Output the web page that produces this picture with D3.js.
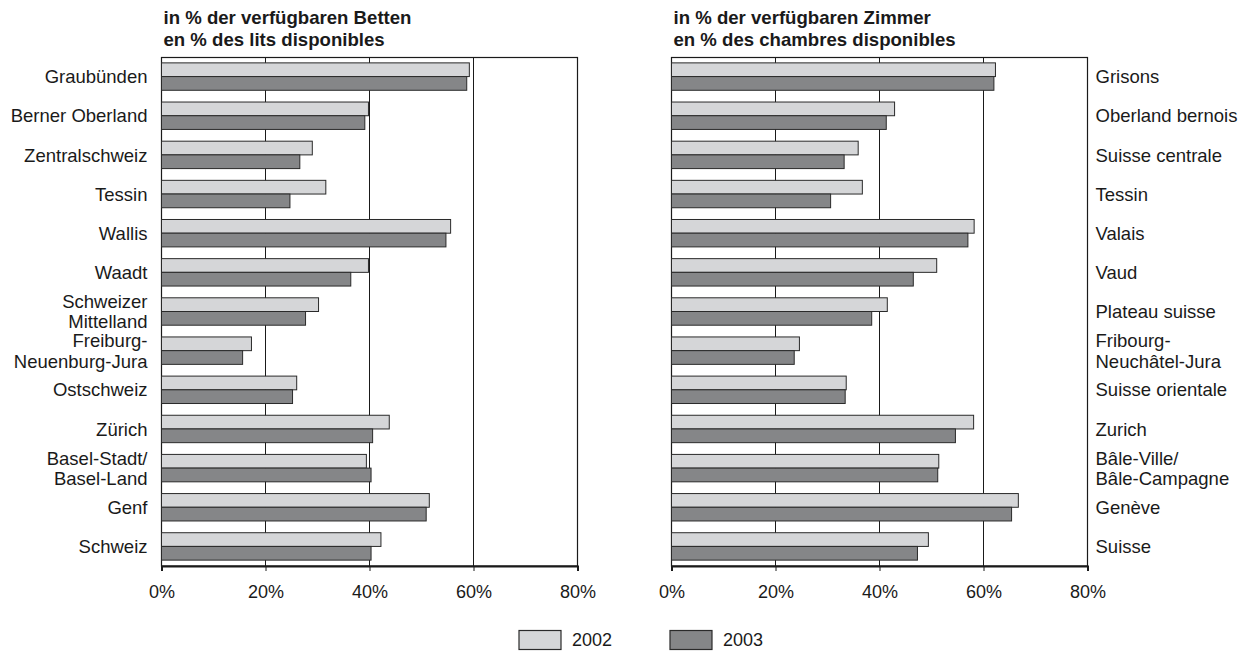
<!DOCTYPE html>
<html>
<head>
<meta charset="utf-8">
<script src="https://cdn.jsdelivr.net/npm/d3@7"></script>
<style>
  html, body { margin: 0; padding: 0; background: #fff; }
  svg { display: block; font-family: "Liberation Sans", Arial, Helvetica, sans-serif; }
</style>
</head>
<body>
<svg id="chart" width="1258" height="655"></svg>
<script>
// ---- data ----
const categoriesDE = [
  ["Graubünden"], ["Berner Oberland"], ["Zentralschweiz"], ["Tessin"], ["Wallis"], ["Waadt"],
  ["Schweizer", "Mittelland"], ["Freiburg-", "Neuenburg-Jura"], ["Ostschweiz"], ["Zürich"],
  ["Basel-Stadt/", "Basel-Land"], ["Genf"], ["Schweiz"]
];
const categoriesFR = [
  ["Grisons"], ["Oberland bernois"], ["Suisse centrale"], ["Tessin"], ["Valais"], ["Vaud"],
  ["Plateau suisse"], ["Fribourg-", "Neuchâtel-Jura"], ["Suisse orientale"], ["Zurich"],
  ["Bâle-Ville/", "Bâle-Campagne"], ["Genève"], ["Suisse"]
];
const years = ["2002", "2003"];
const beds2002 = [59.2, 39.8, 29.0, 31.6, 55.6, 39.8, 30.2, 17.3, 26.0, 43.8, 39.4, 51.5, 42.2];
const beds2003 = [58.7, 39.1, 26.6, 24.7, 54.7, 36.4, 27.7, 15.6, 25.2, 40.6, 40.3, 50.9, 40.3];
const rooms2002 = [62.3, 42.9, 35.9, 36.7, 58.2, 51.0, 41.5, 24.6, 33.6, 58.1, 51.4, 66.7, 49.4];
const rooms2003 = [62.0, 41.3, 33.2, 30.6, 57.0, 46.5, 38.5, 23.6, 33.4, 54.6, 51.2, 65.4, 47.3];
const tickValues = [0, 20, 40, 60, 80];
const titlesBeds = ["in % der verfügbaren Betten", "en % des lits disponibles"];
const titlesRooms = ["in % der verfügbaren Zimmer", "en % des chambres disponibles"];

const colors = { "2002": "#d5d6d8", "2003": "#858688" };
const ink = "#1a1a1a";

const svg = d3.select("#chart");

const y = d3.scaleBand()
  .domain(d3.range(categoriesDE.length))
  .range([57, 566])
  .paddingInner(0.3)
  .paddingOuter(0.15);

function panel(x0, x1, v2002, v2003, labels, side, titles) {
  const x = d3.scaleLinear().domain([0, 80]).range([x0, x1]);
  const g = svg.append("g");
  const top = 57, bottom = 566;

  // titles
  g.append("g").selectAll("text").data(titles).join("text")
    .attr("x", x0 + 2)
    .attr("y", (d, i) => 23.5 + i * 22.5)
    .attr("font-size", 18.6)
    .attr("font-weight", "bold")
    .attr("fill", ink)
    .text(d => d);

  // gridlines
  g.append("g").selectAll("line").data(tickValues.slice(1, -1)).join("line")
    .attr("x1", d => x(d)).attr("x2", d => x(d))
    .attr("y1", top).attr("y2", bottom)
    .attr("stroke", ink).attr("stroke-width", 1);

  // frame
  g.append("rect")
    .attr("x", x0).attr("y", top + 0.5)
    .attr("width", x1 - x0).attr("height", bottom - top - 0.5)
    .attr("fill", "none").attr("stroke", ink).attr("stroke-width", 1.2);

  // bars
  const half = y.bandwidth() / 2;
  const series = [v2002, v2003];
  series.forEach((vals, si) => {
    g.append("g").selectAll("rect").data(vals).join("rect")
      .attr("x", x(0))
      .attr("y", (d, i) => y(i) + si * half)
      .attr("width", d => x(d) - x(0))
      .attr("height", half)
      .attr("fill", colors[years[si]])
      .attr("stroke", "#2a2a2a")
      .attr("stroke-width", 1);
  });

  // bottom axis
  const axis = d3.axisBottom(x).tickValues(tickValues).tickSize(5).tickFormat(d => d + "%");
  const ag = g.append("g").attr("transform", `translate(0,${bottom})`).call(axis);
  ag.select(".domain").attr("stroke", ink).attr("stroke-width", 2);
  ag.selectAll(".tick line").attr("stroke", ink);
  ag.selectAll(".tick text")
    .attr("y", 26)
    .attr("dy", "0.32em")
    .attr("font-size", 18)
    .attr("font-family", "\"Liberation Sans\", Arial, sans-serif")
    .attr("fill", ink);

  // category labels
  const lg = g.append("g");
  labels.forEach((lines, i) => {
    const cy = y(i) + y.bandwidth() / 2;
    const t = lg.append("text")
      .attr("font-size", 18.5)
      .attr("fill", ink)
      .attr("text-anchor", side === "left" ? "end" : "start");
    const lx = side === "left" ? x0 - 14 : x1 + 8;
    lines.forEach((ln, k) => {
      t.append("tspan")
        .attr("x", lx)
        .attr("y", cy + (k - (lines.length - 1) / 2) * 20.5)
        .attr("dy", "0.36em")
        .text(ln);
    });
  });
}

panel(161.5, 577.5, beds2002, beds2003, categoriesDE, "left", titlesBeds);
panel(671.5, 1087.5, rooms2002, rooms2003, categoriesFR, "right", titlesRooms);

// legend
const legendX = [519, 670];
const legend = svg.append("g");
years.forEach((yr, i) => {
  legend.append("rect")
    .attr("x", legendX[i]).attr("y", 630.5)
    .attr("width", 42).attr("height", 19)
    .attr("fill", colors[yr]).attr("stroke", "#2a2a2a").attr("stroke-width", 1.2);
  legend.append("text")
    .attr("x", legendX[i] + 53).attr("y", 640)
    .attr("dy", "0.36em")
    .attr("font-size", 18)
    .attr("fill", ink)
    .text(yr);
});
</script>
</body>
</html>
